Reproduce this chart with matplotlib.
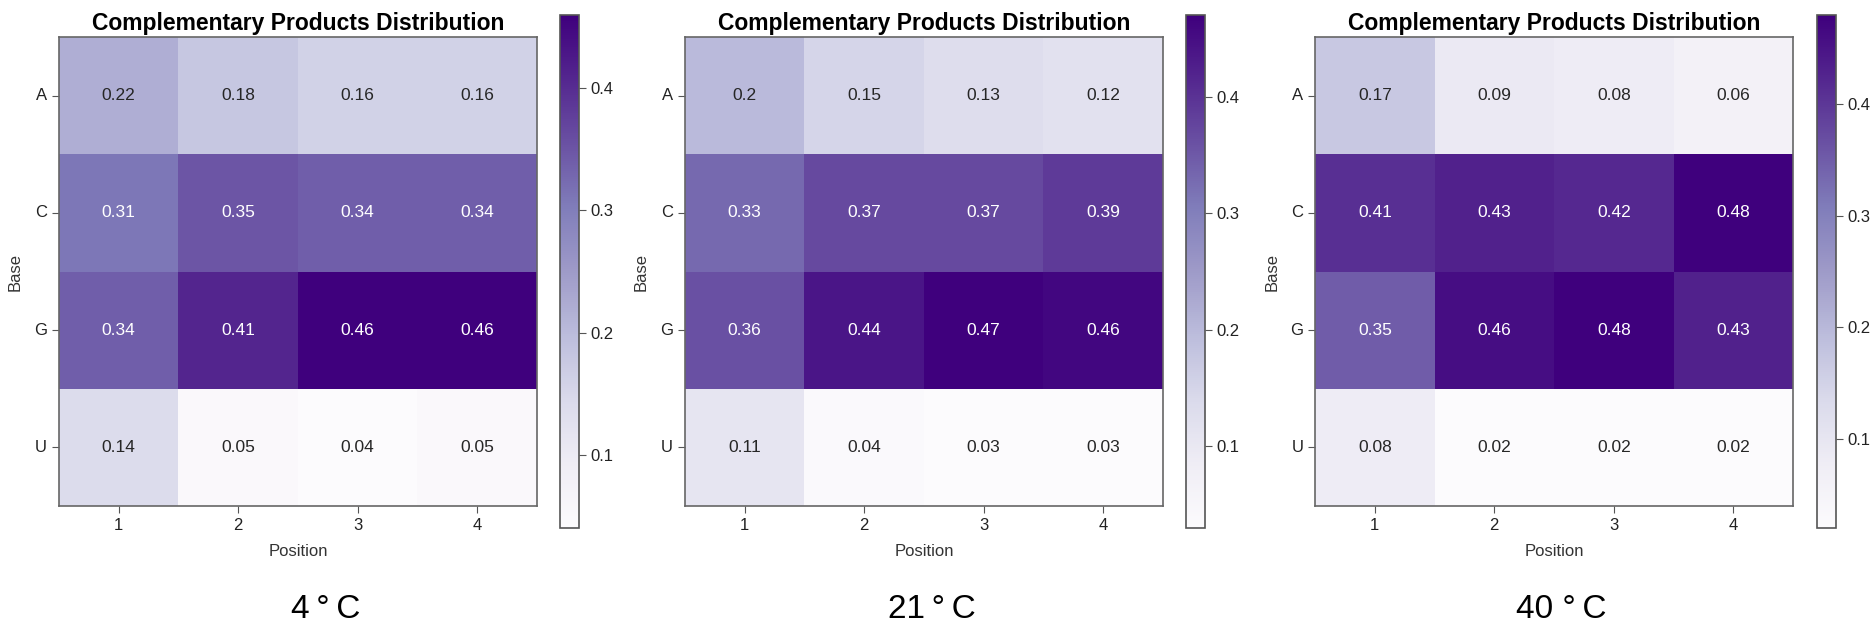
import numpy as np
import matplotlib
matplotlib.use("Agg")
import matplotlib.pyplot as plt
import seaborn as sns

plt.rcParams['font.family'] = ['Liberation Sans', 'DejaVu Sans']

# values
bases = ['A', 'C', 'G', 'U']
positions = [1, 2, 3, 4]

vals_4c = [[0.22, 0.18, 0.16, 0.16],
           [0.31, 0.35, 0.34, 0.34],
           [0.34, 0.41, 0.46, 0.46],
           [0.14, 0.05, 0.04, 0.05]]
vals_21c = [[0.2, 0.15, 0.13, 0.12],
            [0.33, 0.37, 0.37, 0.39],
            [0.36, 0.44, 0.47, 0.46],
            [0.11, 0.04, 0.03, 0.03]]
vals_40c = [[0.17, 0.09, 0.08, 0.06],
            [0.41, 0.43, 0.42, 0.48],
            [0.35, 0.46, 0.48, 0.43],
            [0.08, 0.02, 0.02, 0.02]]
temps = ['4\u2009°\u2009C', '21\u2009°\u2009C', '40 °\u2009C']

fig = plt.figure(figsize=(18.72, 6.32), dpi=100)

# [heatmap left, colorbar left, subtitle x] in figure fraction
layout = [(0.0315, 0.2991, 0.174),
          (0.3659, 0.6335, 0.498),
          (0.7025, 0.9706, 0.834)]

for vals, temp, (hx, cx, tx) in zip([vals_4c, vals_21c, vals_40c], temps, layout):
    ax = fig.add_axes([hx, 0.1994, 0.2553, 0.742])
    cax = fig.add_axes([cx, 0.1646, 0.0102, 0.8117])
    data = np.array(vals)
    sns.heatmap(data, ax=ax, cbar_ax=cax, cmap='Purples', annot=True, fmt='g',
                annot_kws={'fontsize': 12.5},
                xticklabels=positions, yticklabels=bases)
    ax.set_title('Complementary Products Distribution', fontsize=16.5,
                 fontweight='bold', pad=5)
    ax.set_xlabel('Position', fontsize=12, color='#333333', labelpad=8)
    ax.set_ylabel('Base', fontsize=12, color='#333333', labelpad=8)
    ax.tick_params(axis='both', labelsize=12, length=5, color='#555555',
                   labelcolor='#222222')
    ax.tick_params(axis='y', rotation=0)
    for sp in ax.spines.values():
        sp.set_visible(True)
        sp.set_color('#666666')
        sp.set_linewidth(1.2)
    cbar = ax.collections[0].colorbar
    cbar.set_ticks([0.1, 0.2, 0.3, 0.4])
    cbar.ax.tick_params(labelsize=12, length=5, color='#555555', labelcolor='#222222')
    cbar.outline.set_visible(True)
    cbar.outline.set_edgecolor('#555555')
    cbar.outline.set_linewidth(1.2)
    fig.text(tx, 0.035, temp, fontsize=24, ha='center', va='center')

fig.savefig('out.png', dpi=100)
